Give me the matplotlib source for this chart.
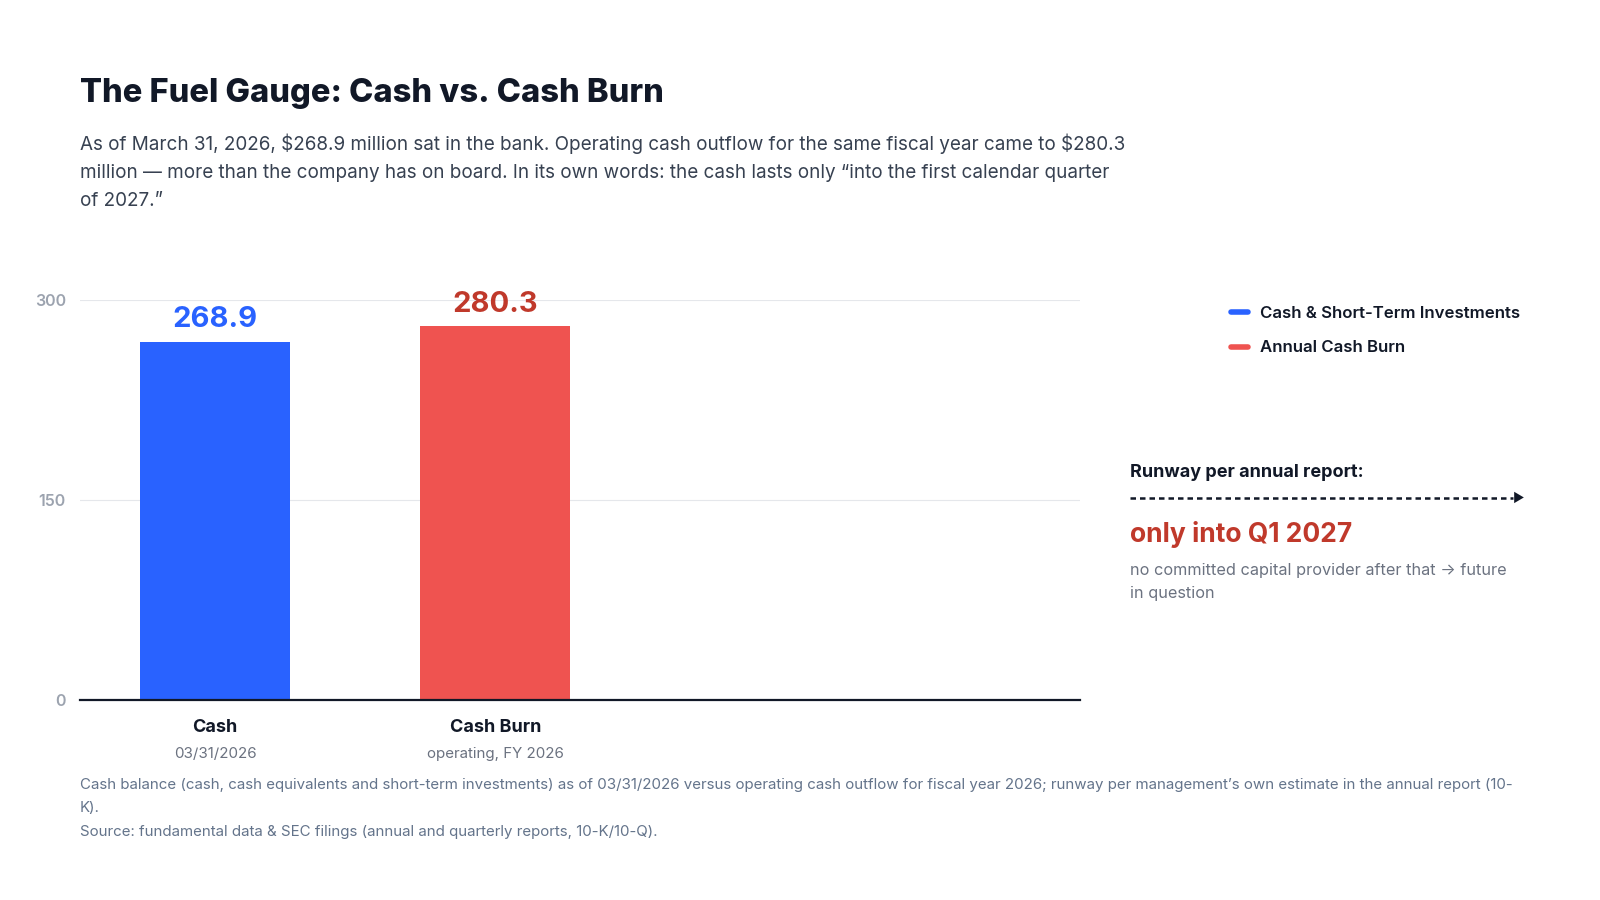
import matplotlib.pyplot as plt
from matplotlib.lines import Line2D

plt.rcParams['font.family'] = ['Inter', 'DejaVu Sans']

# data
categories = ['Cash', 'Cash Burn']
sublabels = ['03/31/2026', 'operating, FY 2026']
values = [268.9, 280.3]
series_names = ['Cash & Short-Term Investments', 'Annual Cash Burn']
yticks = [0, 150, 300]

bar_colors = ['#2962FF', '#EF5350']
label_colors = ['#2962FF', '#C0392B']
dark = '#111827'
gray = '#6B7280'

# positions measured on the (scaled down) reference
W, H = 1567, 881.4
fig = plt.figure(figsize=(16, 9), dpi=100)


def fx(px):
    return px / W


def fy(py):
    return 1 - py / H


# titles
fig.text(fx(78), fy(92), 'The Fuel Gauge: Cash vs. Cash Burn', fontsize=23.5,
         fontweight='heavy', color=dark, va='center', ha='left')
subtitle = ("As of March 31, 2026, \\$268.9 million sat in the bank. Operating cash outflow for the same fiscal year came to \\$280.3\n"
            "million \u2014 more than the company has on board. In its own words: the cash lasts only \u201cinto the first calendar quarter\n"
            "of 2027.\u201d")
fig.text(fx(78), fy(131), subtitle, fontsize=13.6, color='#374151',
         va='top', ha='left', linespacing=1.72)

# main axes
ax = fig.add_axes([fx(78), fy(686), fx(1058) - fx(78), fy(294) - fy(686)])
x = list(range(len(categories)))
ax.bar(x, values, width=0.535, color=bar_colors, zorder=3)
ax.set_xlim(-0.483, 3.087)
ax.set_ylim(0, 300)
ax.set_yticks(yticks)
ax.set_yticklabels([str(t) for t in yticks])
ax.tick_params(axis='y', length=0, pad=10, labelsize=11.5, labelcolor='#9CA3AF')
for lab in ax.get_yticklabels():
    lab.set_fontweight('semibold')
ax.set_xticks([])
ax.grid(axis='y', color='#E5E7EB', linewidth=0.8, zorder=0)
for s in ['top', 'right', 'left']:
    ax.spines[s].set_visible(False)
ax.spines['bottom'].set_color(dark)
ax.spines['bottom'].set_linewidth(1.6)
ax.spines['bottom'].set_zorder(4)

for xi, v, c in zip(x, values, label_colors):
    ax.annotate(f'{v:.1f}', (xi, v), xytext=(0, 6), textcoords='offset points',
                ha='center', va='bottom', fontsize=21, fontweight='bold',
                color=c, annotation_clip=False)

for xi, cat, sub in zip(x, categories, sublabels):
    ax.annotate(cat, (xi, 0), xytext=(0, -19.2), textcoords='offset points',
                ha='center', va='center', fontsize=13, fontweight='bold',
                color=dark, annotation_clip=False)
    ax.annotate(sub, (xi, 0), xytext=(0, -38.4), textcoords='offset points',
                ha='center', va='center', fontsize=10.9, color=gray,
                annotation_clip=False)

# legend
handles = [Line2D([], [], color=c, linewidth=4, solid_capstyle='round') for c in bar_colors]
fig.legend(handles, series_names, loc='upper left',
           bbox_to_anchor=(fx(1191), fy(285)), frameon=False,
           handlelength=1.0, handletextpad=0.7, labelspacing=1.15,
           prop={'weight': 'semibold', 'size': 12.1})
for t in fig.legends[0].get_texts():
    t.set_color(dark)

# runway note
fig.text(fx(1107), fy(463), 'Runway per annual report:', fontsize=13,
         fontweight='bold', color=dark, va='center', ha='left')
fig.add_artist(Line2D([fx(1107), fx(1482)], [fy(488), fy(488)], color=dark,
                      linewidth=1.8, linestyle=(0, (2.2, 1.6))))
fig.text(fx(1493), fy(489), '\u25B6', fontsize=9, color=dark, va='center', ha='right')
fig.text(fx(1107), fy(523), 'only into Q1 2027', fontsize=19,
         fontweight='bold', color='#C0392B', va='center', ha='left')
fig.text(fx(1107), fy(551), 'no committed capital provider after that \u2192 future\nin question',
         fontsize=11.7, color=gray, va='top', ha='left', linespacing=1.72)

# footnotes
foot = ("Cash balance (cash, cash equivalents and short-term investments) as of 03/31/2026 versus operating cash outflow for fiscal year 2026; runway per management\u2019s own estimate in the annual report (10-\n"
        "K).\n"
        "Source: fundamental data & SEC filings (annual and quarterly reports, 10-K/10-Q).")
fig.text(fx(78), fy(762), foot, fontsize=10.85, color='#64748B', va='top', ha='left',
         linespacing=1.85)

fig.savefig('out.png', dpi=100, facecolor='white')
